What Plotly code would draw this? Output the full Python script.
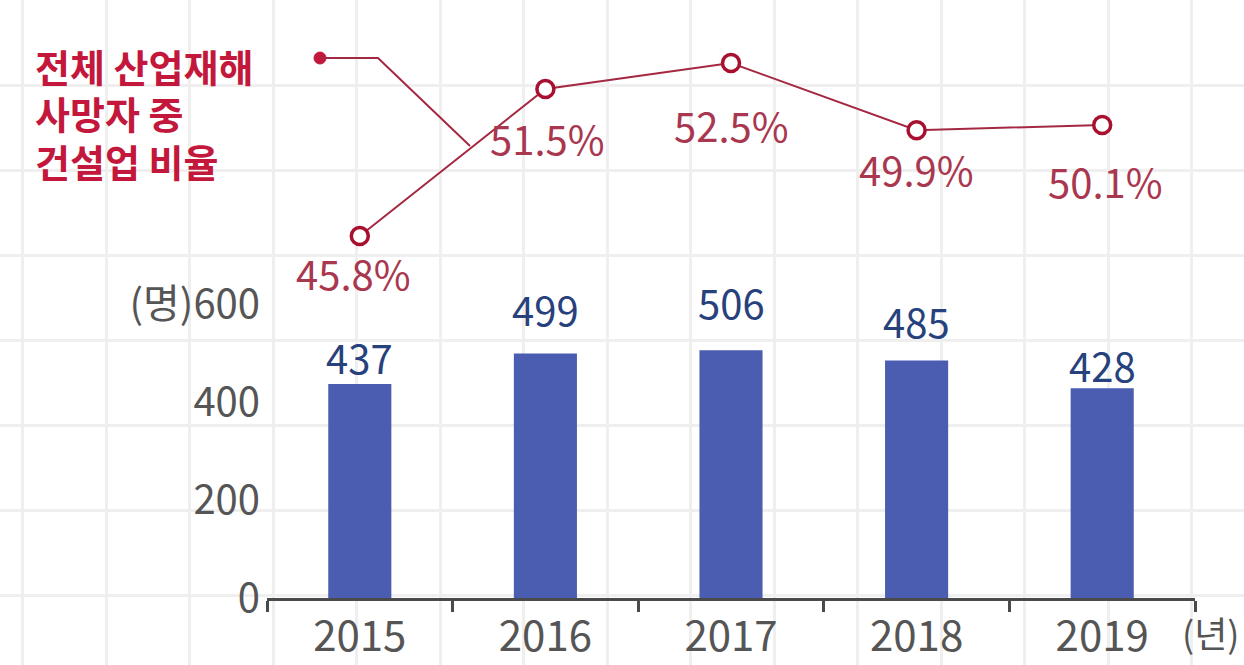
import plotly.graph_objects as go

years = ["2015", "2016", "2017", "2018", "2019"]
deaths = [437, 499, 506, 485, 428]
ratio = [45.8, 51.5, 52.5, 49.9, 50.1]
y_ticks = [0, 200, 400, 600]
y_ticktext = ["0", "200", "400", "(명)600"]
legend_lines = ["전체 산업재해", "사망자 중", "건설업 비율"]
x_unit = "(년)"

W, H = 1244, 665
FONT = "Noto Sans CJK KR"
BAR = "#4a5db0"
BAR_TXT = "#27417d"
LINE = "#a52843"
PCT_TXT = "#a9374f"
LEG_TXT = "#c3173b"
GRAY = "#555555"

fig = go.Figure()

fig.add_trace(go.Scatter(x=[None], y=[None], xaxis="x", yaxis="y",
                         showlegend=False, hoverinfo="skip"))

fig.add_trace(go.Bar(x=years, y=deaths, xaxis="x2", yaxis="y2",
                     marker=dict(color=BAR, line=dict(width=0)),
                     width=0.34, showlegend=False, hoverinfo="skip"))

fig.add_trace(go.Scatter(x=years, y=ratio, xaxis="x2", yaxis="y3",
                         mode="lines+markers",
                         line=dict(color=LINE, width=2),
                         marker=dict(symbol="circle", size=17, color="white",
                                     line=dict(color="#a8102f", width=3.5)),
                         showlegend=False, hoverinfo="skip"))

annotations = []
bar_shift = [-4, 14, 17, 8, -8]
for i, (v, s) in enumerate(zip(deaths, bar_shift)):
    annotations.append(dict(x=i, y=v, xref="x2", yref="y2", text=str(v),
                            showarrow=False, yanchor="bottom", yshift=s,
                            font=dict(family=FONT, size=40, color=BAR_TXT)))
pct_shift = [-6, -18, -31, -8, -25]
pct_xshift = [-6, 2, 0, 0, 3]
for i, (v, s, xs) in enumerate(zip(ratio, pct_shift, pct_xshift)):
    annotations.append(dict(x=i, y=v, xref="x2", yref="y3", text=f"{v}%",
                            showarrow=False, yanchor="top", yshift=s, xshift=xs,
                            font=dict(family=FONT, size=40, color=PCT_TXT)))
for k, line in enumerate(legend_lines):
    annotations.append(dict(x=33, y=65 + 47.5 * k, xref="x", yref="y",
                            text=line, showarrow=False, xanchor="left",
                            yanchor="middle", align="left",
                            font=dict(family=FONT, size=38, color=LEG_TXT,
                                      weight="bold")))
annotations.append(dict(x=1210, y=632, xref="x", yref="y", text=x_unit,
                        showarrow=False, xanchor="center", yanchor="middle",
                        font=dict(family=FONT, size=36, color=GRAY)))

shapes = [
    dict(type="circle", xref="x", yref="y", x0=314, x1=326, y0=52, y1=64,
         fillcolor="#c3173b", line=dict(color="#c3173b", width=1)),
    dict(type="path", xref="x", yref="y", path="M 320 58 L 378 58 L 470 146",
         line=dict(color=LINE, width=2)),
]

fig.update_layout(
    width=W, height=H,
    margin=dict(l=0, r=0, t=0, b=0, autoexpand=False),
    paper_bgcolor="white",
    plot_bgcolor="rgba(0,0,0,0)",
    xaxis=dict(domain=[0, 1], range=[0, W], showgrid=True, gridcolor="#efefef",
               gridwidth=3, tick0=273, dtick=83.5, zeroline=False,
               automargin=False,
               showticklabels=False, ticks="", showline=False, fixedrange=True),
    yaxis=dict(domain=[0, 1], range=[H, 0], showgrid=True, gridcolor="#efefef",
               gridwidth=3, tick0=255, dtick=85, zeroline=False,
               automargin=False,
               showticklabels=False, ticks="", showline=False, fixedrange=True),
    xaxis2=dict(domain=[267 / W, 1195 / W], anchor="y2", type="category",
                range=[-0.5, 4.5], showgrid=False, zeroline=False,
                automargin=False,
                showline=True, linecolor="#4a4a4a", linewidth=2.5,
                ticks="outside", tickson="boundaries", ticklen=11,
                tickwidth=2.5, tickcolor="#4a4a4a",
                tickfont=dict(family=FONT, size=42, color=GRAY)),
    yaxis2=dict(domain=[(H - 598) / H, (H - 20) / H], anchor="x2",
                range=[0, 1180], showgrid=False, zeroline=False,
                automargin=False,
                showline=False, ticks="", tickvals=y_ticks, ticktext=y_ticktext,
                ticklabelstandoff=6,
                tickfont=dict(family=FONT, size=40, color=GRAY)),
    yaxis3=dict(overlaying="y2", anchor="x2", range=[31.77, 54.17],
                showgrid=False, zeroline=False, showline=False,
                automargin=False,
                showticklabels=False, ticks=""),
    annotations=annotations,
    shapes=shapes,
)

page_fix = (
    "document.documentElement.style.margin='0';"
    "document.body.style.margin='0';"
    "document.body.style.overflow='hidden';"
)

fig.write_html("out.html", config={"displayModeBar": False}, post_script=page_fix)
